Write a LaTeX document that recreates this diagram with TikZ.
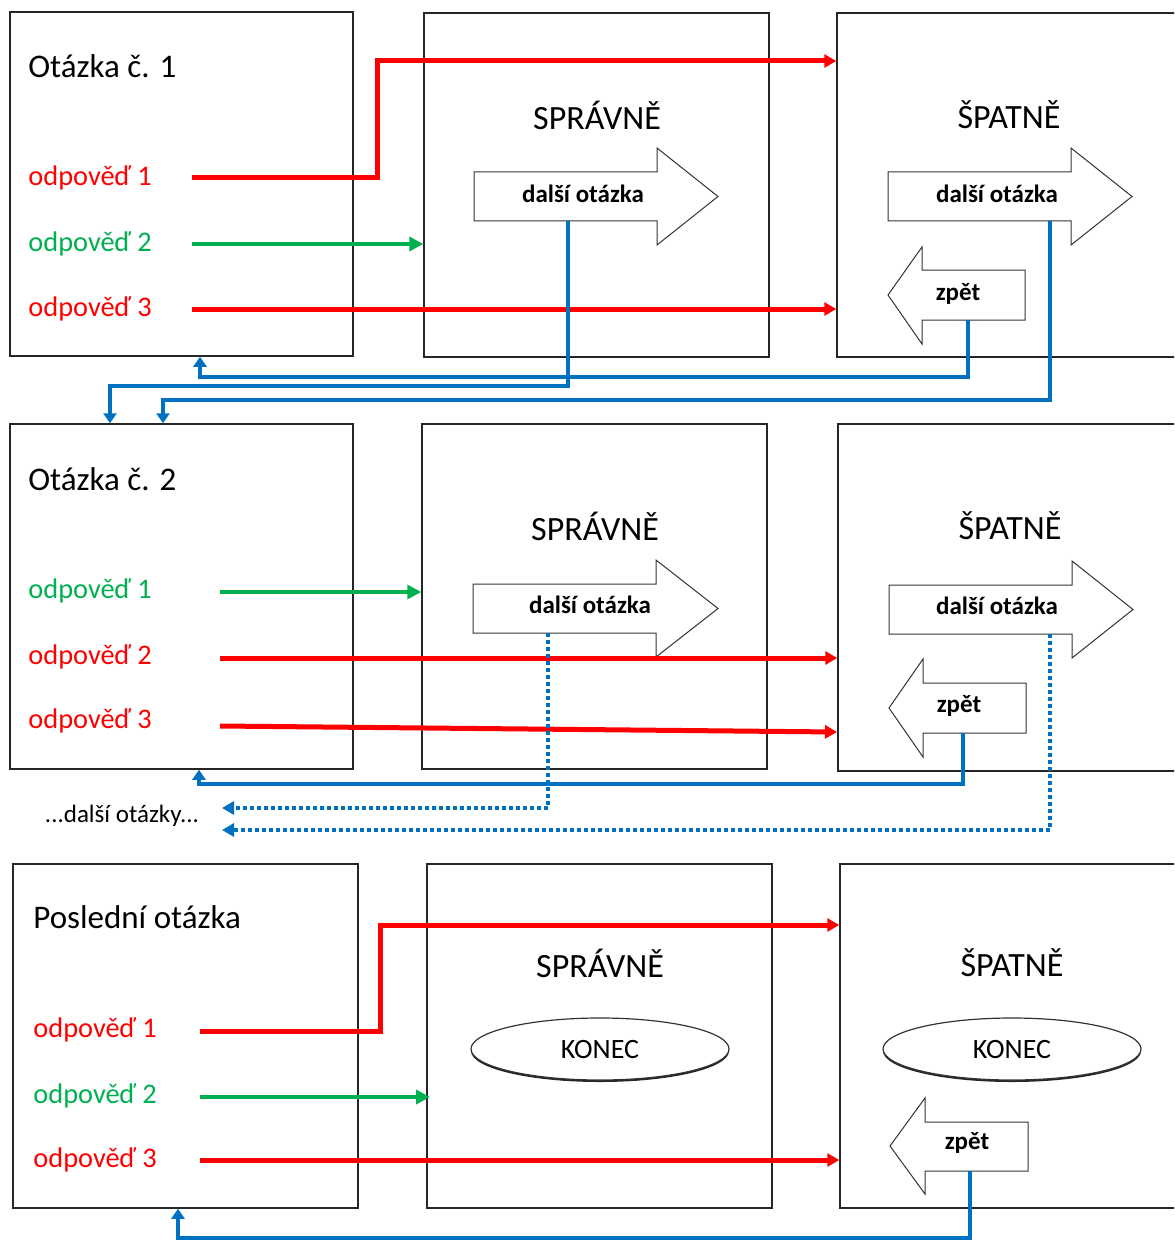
\documentclass[tikz,border=0pt]{standalone}
\usepackage{fontspec}
\setmainfont{Carlito}
\usetikzlibrary{arrows.meta,shapes.geometric,shadows}
\definecolor{cred}{HTML}{FF0000}
\definecolor{cgreen}{HTML}{00B050}
\definecolor{cblue}{HTML}{0070C0}
\begin{document}
\begin{tikzpicture}[x=0.5pt,y=-0.5pt,
  box/.style={draw=black!85, line width=0.75pt, inner sep=0pt, minimum width=#1},
  box/.default=172pt,
  title/.style={anchor=west, inner sep=0pt, font=\fontsize{16.5}{18}\selectfont},
  headtxt/.style={inner sep=0pt, font=\fontsize{17}{19}\selectfont},
  ansr/.style={anchor=west, inner sep=0pt, text=cred, font=\fontsize{14.2}{16}\selectfont},
  ansg/.style={anchor=west, inner sep=0pt, text=cgreen, font=\fontsize{14.2}{16}\selectfont},
  shp/.style={draw=black!80, line width=0.5pt, fill=white},
  arrtxt/.style={inner sep=0pt, font=\bfseries\fontsize{12.5}{14}\selectfont},
  redl/.style={draw=cred, line width=2.5pt, -{Triangle[length=6pt,width=6.5pt]}},
  grnl/.style={draw=cgreen, line width=2pt, -{Triangle[length=7pt,width=7pt]}},
  bluel/.style={draw=cblue, line width=2pt, -{Triangle[length=5pt,width=6.5pt]}},
  dotl/.style={draw=cblue, line width=2pt, dash pattern=on 2pt off 1.5pt, -{Triangle[length=6pt,width=6.5pt]}},
  endnode/.style={ellipse, draw=black!80, line width=0.6pt, fill=white, minimum width=129pt, minimum height=31pt, inner sep=0pt,
     drop shadow={shadow xshift=0pt, shadow yshift=-1pt, opacity=0.85, fill=black},
     font=\fontsize{14}{16}\selectfont}
]
\useasboundingbox (0,0) rectangle (1174,1241);
\clip (0,0) rectangle (1174,1241);

% ---------------- boxes ----------------
\node[box=171.5pt, minimum height=172pt] (Q1) at (181.5,184) {};
\node[box=172.5pt, minimum height=172pt] (S1) at (596.5,185) {};
\node[box=176.5pt, minimum height=172pt] (W1) at (1013.5,185) {};
\node[box=171.5pt, minimum height=172.5pt] (Q2) at (181.5,596.5) {};
\node[box=172.5pt, minimum height=172.5pt] (S2) at (594.5,596.5) {};
\node[box=176pt, minimum height=173.5pt] (W2) at (1014,597.5) {};
\node[box=172.5pt, minimum height=172pt] (Q3) at (185.5,1036) {};
\node[box=172.5pt, minimum height=172pt] (S3) at (599.5,1036) {};
\node[box=175pt, minimum height=172pt] (W3) at (1015,1036) {};

% ---------------- texts ----------------
\node[title] (t1) at (28,66) {Otázka č. 1};
\node[title] (t2) at (28,479) {Otázka č. 2};
\node[title] (t3) at (33,917) {Poslední otázka};
\node[headtxt] (h1s) at (597,115) {SPRÁVNĚ};
\node[headtxt] (h1w) at (1009,115) {ŠPATNĚ};
\node[headtxt] (h2s) at (595,526) {SPRÁVNĚ};
\node[headtxt] (h2w) at (1010,526) {ŠPATNĚ};
\node[headtxt] (h3s) at (600,963) {SPRÁVNĚ};
\node[headtxt] (h3w) at (1012,963) {ŠPATNĚ};

\node[ansr] (a11) at (28,178) {odpověď 1};
\node[ansg] (a12) at (28,244) {odpověď 2};
\node[ansr] (a13) at (28,309) {odpověď 3};
\node[ansg] (a21) at (28,591) {odpověď 1};
\node[ansr] (a22) at (28,657) {odpověď 2};
\node[ansr] (a23) at (28,721) {odpověď 3};
\node[ansr] (a31) at (33,1030) {odpověď 1};
\node[ansg] (a32) at (33,1096) {odpověď 2};
\node[ansr] (a33) at (33,1160) {odpověď 3};

\node[inner sep=0pt, font=\fontsize{12.5}{14}\selectfont] (more) at (122,816) {...další otázky...};

% ---------------- big arrows ----------------
\draw[shp] (474,172) -- (657,172) -- (657,148) -- (718,196.5) -- (657,245) -- (657,221) -- (474,221) -- cycle;
\node[arrtxt] (n1s) at (583,194) {další otázka};
\draw[shp] (888,172) -- (1071,172) -- (1071,148) -- (1132,196.5) -- (1071,245) -- (1071,221) -- (888,221) -- cycle;
\node[arrtxt] (n1w) at (997,194) {další otázka};
\draw[shp] (1025,270) -- (922,270) -- (922,247) -- (888,295) -- (922,344) -- (922,320) -- (1025,320) -- cycle;
\node[arrtxt] (z1) at (958,294) {zpět};

\draw[shp] (473,584) -- (656,584) -- (656,560) -- (718,608.5) -- (656,657) -- (656,633) -- (473,633) -- cycle;
\node[arrtxt] (n2s) at (590,605) {další otázka};
\draw[shp] (889,585) -- (1072,585) -- (1072,561) -- (1133,609.5) -- (1072,658) -- (1072,634) -- (889,634) -- cycle;
\node[arrtxt] (n2w) at (997,606) {další otázka};
\draw[shp] (1026,683) -- (923,683) -- (923,659) -- (889,708) -- (923,757) -- (923,733) -- (1026,733) -- cycle;
\node[arrtxt] (z2) at (959,706) {zpět};

\draw[shp] (1028,1122) -- (925,1122) -- (925,1098) -- (890,1146) -- (925,1194) -- (925,1171) -- (1028,1171) -- cycle;
\node[arrtxt] (z3) at (967,1143) {zpět};

\node[endnode] (k3s) at (600,1049) {KONEC};
\node[endnode] (k3w) at (1012,1049) {KONEC};

% ---------------- coordinates ----------------
\coordinate (r11s) at (192,178);
\coordinate (r11k) at (377,61);
\coordinate (g12s) at (192,244);
\coordinate (r13s) at (192,309);
\coordinate (g21s) at (220,592);
\coordinate (r22s) at (220,658);
\coordinate (r23s) at (220,726);
\coordinate (r23e) at (837,732);
\coordinate (r31s) at (200,1031);
\coordinate (r31k) at (380,925);
\coordinate (g32s) at (200,1097);
\coordinate (g32e) at (430,1097);
\coordinate (r33s) at (200,1160);

\coordinate (b1s) at (568,221);
\coordinate (b1k) at (110,386);
\coordinate (b2s) at (968,320);
\coordinate (b2k) at (200,377);
\coordinate (b3s) at (1050,221);
\coordinate (b3k) at (163,400);
\coordinate (b4s) at (963,733);
\coordinate (b4k) at (199,784);
\coordinate (d1s) at (548,633);
\coordinate (d1e) at (222,808);
\coordinate (d2s) at (1050,634);
\coordinate (d2e) at (222,830);
\coordinate (b5s) at (970,1171);
\coordinate (b5k) at (178,1238);

% ---------------- connectors ----------------
\draw[redl] (r11s) -| (r11k) -- (W1.west |- r11k);
\draw[grnl] (g12s) -- (S1.west |- g12s);
\draw[redl] (r13s) -- (W1.west |- r13s);

\draw[grnl] (g21s) -- (S2.west |- g21s);
\draw[redl] (r22s) -- (W2.west |- r22s);
\draw[redl] (r23s) -- (r23e);

\draw[redl] (r31s) -| (r31k) -- (W3.west |- r31k);
\draw[grnl] (g32s) -- (g32e);
\draw[redl] (r33s) -- (W3.west |- r33s);

\draw[bluel] (b1s) |- (b1k) -- (b1k |- Q2.north);
\draw[bluel] (b2s) |- (b2k) -- (b2k |- Q1.south);
\draw[bluel] (b3s) |- (b3k) -- (b3k |- Q2.north);
\draw[bluel] (b4s) |- (b4k) -- (b4k |- Q2.south);
\draw[dotl] (d1s) |- (d1e);
\draw[dotl] (d2s) |- (d2e);
\draw[bluel] (b5s) |- (b5k) -- (b5k |- Q3.south);
\end{tikzpicture}
\end{document}
